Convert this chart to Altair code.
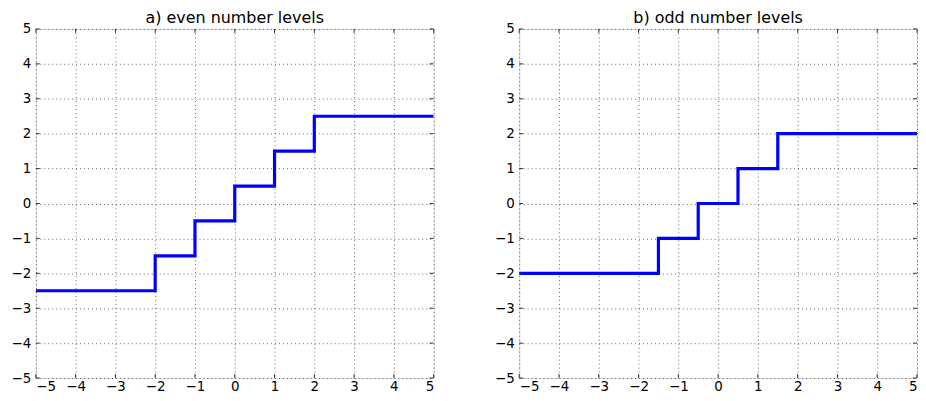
import altair as alt
import pandas as pd

even_x = [-5, -2, -1, 0, 1, 2, 5]
even_y = [-2.5, -1.5, -0.5, 0.5, 1.5, 2.5, 2.5]
odd_x = [-5, -1.5, -0.5, 0.5, 1.5, 5]
odd_y = [-2, -1, 0, 1, 2, 2]
ticks = [-5, -4, -3, -2, -1, 0, 1, 2, 3, 4, 5]

FONT = "DejaVu Sans"
W, H = 400, 351
TL = 4  # inward tick length
TICK_COLOR = "#333333"

def panel(xs, ys, title):
    df = pd.DataFrame({"x": xs, "y": ys})
    tx = pd.DataFrame({"x": ticks})
    ty = pd.DataFrame({"y": ticks})
    sx = alt.Scale(domain=[-5, 5], nice=False, zero=False)
    sy = alt.Scale(domain=[-5, 5], nice=False, zero=False)
    axis_common = dict(
        values=ticks, title=None, grid=True, gridColor="#000000", gridOpacity=0.6,
        gridDash=[1, 3], gridWidth=1, tickSize=0, labelFont=FONT, labelFontSize=13.5,
        labelColor="#000000", domain=False,
    )
    ax = alt.Axis(format="d", labelPadding=2, **axis_common)
    ay = alt.Axis(format="d", labelPadding=5, minExtent=27, maxExtent=27, **axis_common)
    X = alt.X("x:Q", scale=sx, axis=ax)
    Y = alt.Y("y:Q", scale=sy, axis=ay)
    line = alt.Chart(df).mark_line(
        interpolate="step-after", color="#0000ff", strokeWidth=3.2, clip=True
    ).encode(x=X, y=Y)
    t_bottom = alt.Chart(tx).mark_rule(color=TICK_COLOR, strokeWidth=1).encode(
        x=X, y=alt.value(H), y2=alt.value(H - TL))
    t_top = alt.Chart(tx).mark_rule(color=TICK_COLOR, strokeWidth=1).encode(
        x=X, y=alt.value(0), y2=alt.value(TL))
    t_left = alt.Chart(ty).mark_rule(color=TICK_COLOR, strokeWidth=1).encode(
        y=Y, x=alt.value(0), x2=alt.value(TL))
    t_right = alt.Chart(ty).mark_rule(color=TICK_COLOR, strokeWidth=1).encode(
        y=Y, x=alt.value(W), x2=alt.value(W - TL))
    return alt.layer(line, t_bottom, t_top, t_left, t_right).properties(
        width=W, height=H,
        title=alt.TitleParams(title, font=FONT, fontSize=16, fontWeight="normal",
                              color="#000000", offset=-4),
    )

chart = alt.hconcat(
    panel(even_x, even_y, "a) even number levels"),
    panel(odd_x, odd_y, "b) odd number levels"),
    spacing=57,
).properties(padding=0).configure_view(
    stroke="#3a3a3a", strokeWidth=1.3
).configure(background="white")

chart.save("out.html", embed_options={"renderer": "svg", "actions": False})
